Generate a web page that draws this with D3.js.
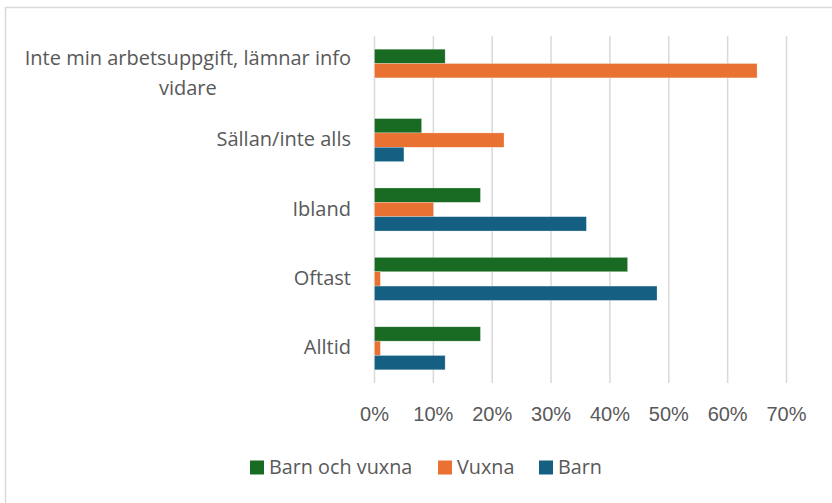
<!DOCTYPE html>
<html lang="sv">
<head>
  <meta charset="UTF-8" />
  <title>Svar per grupp</title>
  <script src="https://d3js.org/d3.v7.min.js"></script>
  <style>
    body {
      margin: 0;
      background: #fff;
    }
    svg {
      display: block;
    }
    .cat {
      font-family: "Open Sans", sans-serif;
      font-size: 20px;
      fill: #595959;
    }
    .tick-label {
      font-family: "Liberation Sans", Arial, sans-serif;
      font-size: 20px;
      fill: #595959;
    }
    .legend-text {
      font-family: "Open Sans", sans-serif;
      font-size: 19.8px;
      fill: #595959;
    }
  </style>
</head>
<body>
  <svg id="chart" width="832" height="503"></svg>

  <script>
    const categories = [
      "Inte min arbetsuppgift, lämnar info vidare",
      "Sällan/inte alls",
      "Ibland",
      "Oftast",
      "Alltid"
    ];
    const series = ["Barn och vuxna", "Vuxna", "Barn"];
    const barnOchVuxna = [0.12, 0.08, 0.18, 0.43, 0.18];
    const vuxna = [0.65, 0.22, 0.10, 0.01, 0.01];
    const barn = [0, 0.05, 0.36, 0.48, 0.12];
    const tickValues = [0, 0.1, 0.2, 0.3, 0.4, 0.5, 0.6, 0.7];

    const colors = {
      "Barn och vuxna": "#196b24",
      "Vuxna": "#e97132",
      "Barn": "#156082"
    };

    const values = [barnOchVuxna, vuxna, barn];
    const rows = categories.map((c, i) => ({
      cat: c,
      vals: series.map((s, j) => ({ key: s, value: values[j][i] }))
    }));

    const svg = d3.select("#chart");

    // chart border (runs off the right and bottom edge)
    svg.append("rect")
      .attr("x", 5.5)
      .attr("y", 7.5)
      .attr("width", 840)
      .attr("height", 510)
      .attr("fill", "none")
      .attr("stroke", "#d9d9d9")
      .attr("stroke-width", 1.5);

    const x = d3.scaleLinear().domain([0, 0.7]).range([374.5, 786.5]);
    const y = d3.scaleBand()
      .domain(categories)
      .range([36, 383])
      .paddingInner(0.38)
      .paddingOuter(0.19);
    const ySub = d3.scaleBand().domain(series).range([0, y.bandwidth()]);

    // gridlines
    svg.append("g")
      .selectAll("line")
      .data(tickValues)
      .join("line")
      .attr("x1", d => x(d))
      .attr("x2", d => x(d))
      .attr("y1", 36)
      .attr("y2", 383)
      .attr("stroke", "#d9d9d9")
      .attr("stroke-width", 1.5);

    // tick labels
    svg.append("g")
      .selectAll("text")
      .data(tickValues)
      .join("text")
      .attr("class", "tick-label")
      .attr("x", d => x(d))
      .attr("y", 420.5)
      .attr("text-anchor", "middle")
      .text(d3.format(".0%"));

    // bars
    const groups = svg.append("g")
      .selectAll("g")
      .data(rows)
      .join("g")
      .attr("transform", d => `translate(0,${y(d.cat)})`);

    groups.selectAll("rect")
      .data(d => d.vals)
      .join("rect")
      .attr("x", x(0))
      .attr("y", d => ySub(d.key))
      .attr("width", d => x(d.value) - x(0))
      .attr("height", ySub.bandwidth())
      .attr("fill", d => colors[d.key])
      .attr("stroke", "#fff")
      .attr("stroke-width", 0.5)
      .attr("stroke-opacity", 0.5);

    // category labels, the long one wraps onto two centred lines
    const lines = {
      "Inte min arbetsuppgift, lämnar info vidare": ["Inte min arbetsuppgift, lämnar info", "vidare"]
    };
    const lineH = 30;
    const labelRight = 351;
    categories.forEach(c => {
      const ls = lines[c] || [c];
      const cy = y(c) + y.bandwidth() / 2;
      const t = svg.append("text")
        .attr("class", "cat")
        .attr("text-anchor", "end");
      if (ls.length === 1) {
        t.attr("x", labelRight).attr("y", cy).attr("dy", "0.3em").text(c);
        return;
      }
      ls.forEach((l, i) => {
        t.append("tspan")
          .attr("x", labelRight)
          .attr("y", cy - lineH / 2 + i * lineH)
          .attr("dy", "0.47em")
          .text(l);
      });
      const w = t.node().getBBox().width;
      t.attr("text-anchor", "middle").selectAll("tspan").attr("x", labelRight - w / 2);
    });

    // legend
    const legendItems = [
      { key: "Barn och vuxna", x: 250 },
      { key: "Vuxna", x: 438 },
      { key: "Barn", x: 539 }
    ];
    const lg = svg.append("g")
      .selectAll("g")
      .data(legendItems)
      .join("g")
      .attr("transform", d => `translate(${d.x},460.5)`);
    lg.append("rect")
      .attr("width", 14)
      .attr("height", 14)
      .attr("fill", d => colors[d.key]);
    lg.append("text")
      .attr("class", "legend-text")
      .attr("x", 19)
      .attr("y", 13.5)
      .text(d => d.key);
  </script>
</body>
</html>
